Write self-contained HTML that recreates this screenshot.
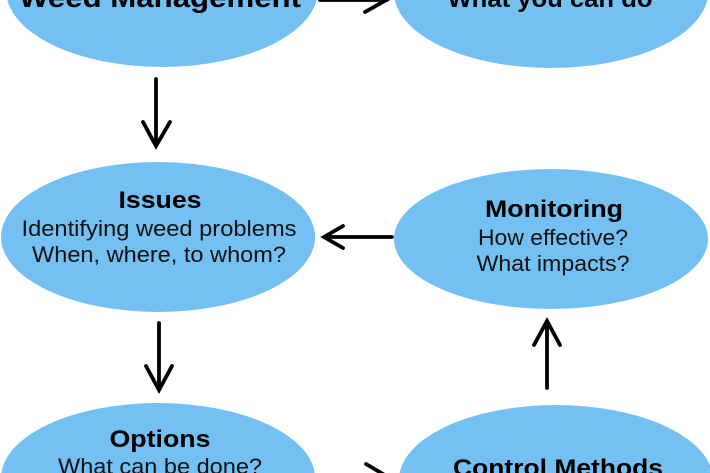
<!DOCTYPE html>
<html>
<head>
<meta charset="utf-8">
<style>
  html, body { margin: 0; padding: 0; background: #ffffff; width: 710px; height: 473px; overflow: hidden; }
  svg { display: block; }
  .t { font-family: "Liberation Sans", Arial, sans-serif; text-anchor: middle; fill: #111; }
  .b { font-weight: bold; fill: #000; }
</style>
</head>
<body>
<svg width="710" height="473" viewBox="0 0 710 473" xmlns="http://www.w3.org/2000/svg" overflow="hidden">
  <rect width="710" height="473" fill="#ffffff"/>
  <g fill="#74C0F3">
    <ellipse cx="162" cy="-10" rx="156" ry="77"/>
    <ellipse cx="551" cy="-8" rx="157" ry="76"/>
    <ellipse cx="158" cy="237" rx="157" ry="75"/>
    <ellipse cx="551" cy="239" rx="157" ry="70"/>
    <ellipse cx="158" cy="478" rx="157" ry="75"/>
    <ellipse cx="556" cy="480" rx="157" ry="75"/>
  </g>

  <g stroke="#000" stroke-width="3.8" fill="none" stroke-linecap="round" stroke-linejoin="miter">
    <!-- top right arrow -->
    <line x1="320" y1="0" x2="387" y2="0"/>
    <polyline points="365,12 388,-1 365,-14"/>
    <!-- down arrow 1 -->
    <line x1="156" y1="79" x2="156" y2="145"/>
    <polyline points="143,122 156,146 170,122"/>
    <!-- left arrow middle -->
    <line x1="326" y1="237" x2="392" y2="237"/>
    <polyline points="343,226 324,237 343,248"/>
    <!-- down arrow 2 -->
    <line x1="159" y1="323" x2="159" y2="389"/>
    <polyline points="146,366 159,390 172,366"/>
    <!-- up arrow -->
    <line x1="547" y1="388" x2="547" y2="322"/>
    <polyline points="534,345 547,321 560,345"/>
    <!-- bottom arrow -->
    <line x1="320" y1="477" x2="386" y2="477"/>
    <polyline points="366,464 388,477 366,490"/>
  </g>

  <!-- top texts -->
  <text class="t b" x="160" y="7" font-size="28" textLength="282" lengthAdjust="spacingAndGlyphs">Weed Management</text>
  <text class="t b" x="550" y="7" font-size="24" textLength="205" lengthAdjust="spacingAndGlyphs">What you can do</text>

  <!-- Issues -->
  <text class="t b" x="160" y="208" font-size="24" textLength="83" lengthAdjust="spacingAndGlyphs">Issues</text>
  <text class="t" x="159" y="236" font-size="22" textLength="275" lengthAdjust="spacingAndGlyphs">Identifying weed problems</text>
  <text class="t" x="159" y="262" font-size="22" textLength="254" lengthAdjust="spacingAndGlyphs">When, where, to whom?</text>

  <!-- Monitoring -->
  <text class="t b" x="554" y="217" font-size="24" textLength="138" lengthAdjust="spacingAndGlyphs">Monitoring</text>
  <text class="t" x="553" y="245" font-size="22" textLength="150" lengthAdjust="spacingAndGlyphs">How effective?</text>
  <text class="t" x="553" y="271" font-size="22" textLength="153" lengthAdjust="spacingAndGlyphs">What impacts?</text>

  <!-- Options -->
  <text class="t b" x="160" y="447" font-size="24" textLength="101" lengthAdjust="spacingAndGlyphs">Options</text>
  <text class="t" x="160" y="474" font-size="22" textLength="204" lengthAdjust="spacingAndGlyphs">What can be done?</text>

  <!-- Control Methods -->
  <text class="t b" x="558" y="476" font-size="24" textLength="210" lengthAdjust="spacingAndGlyphs">Control Methods</text>
</svg>
</body>
</html>
